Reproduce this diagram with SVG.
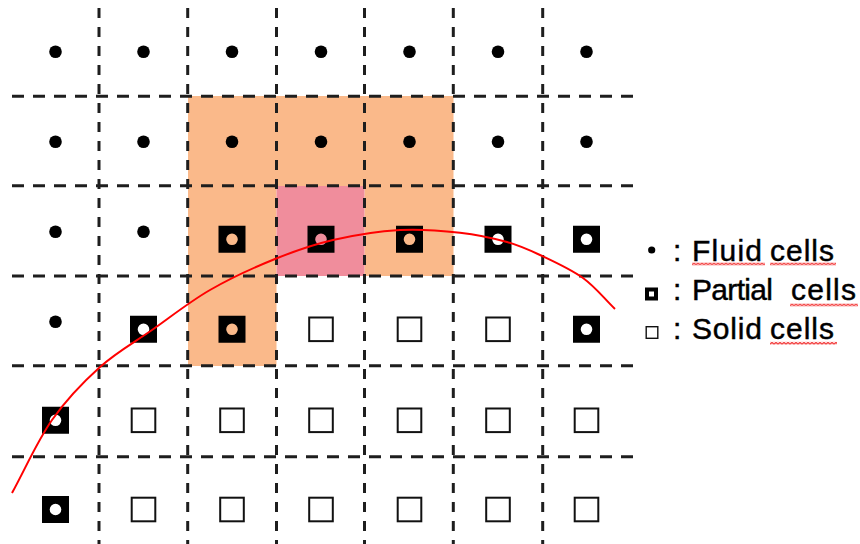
<svg xmlns="http://www.w3.org/2000/svg" width="860" height="544" viewBox="0 0 860 544">
  <style>
    .hl { stroke: #1e1e1e; stroke-width: 3; stroke-dasharray: 12 9; fill: none; }
    .vl { stroke: #1e1e1e; stroke-width: 3; stroke-dasharray: 10 9; fill: none; }
    .lg { font-family: "Liberation Sans", Arial, sans-serif; font-size: 30px; fill: #000; stroke: #000; stroke-width: 0.45px; }
    .curve { stroke: #ff0000; stroke-width: 2; fill: none; }
  </style>
  <defs>
    <circle id="fluid" r="6.3" fill="#000"/>
    <path id="partial" fill="#000" fill-rule="evenodd" d="M-13.5,-13.5 h27 v27 h-27 z M-5.8,0 a5.8,5.8 0 1,0 11.6,0 a5.8,5.8 0 1,0 -11.6,0 z"/>
    <rect id="solid" x="-11.8" y="-11.8" width="23.6" height="23.6" fill="#fff" stroke="#111" stroke-width="2"/>
    <pattern id="wavy" patternUnits="userSpaceOnUse" width="4" height="3">
      <path d="M0,2.4 L2,0.6 L4,2.4" stroke="#f01818" stroke-width="1.2" fill="none"/>
    </pattern>
  </defs>

  <rect width="860" height="544" fill="#fff"/>

  <g id="shading">
    <path d="M188,96 H453.5 V276 H364.5 V186 H276.5 V366 H188 Z" fill="#fab98a"/>
    <rect x="276.5" y="186" width="88" height="90" fill="#f08d9c"/>
  </g>

  <g id="grid">
    <line class="hl" x1="12" y1="96.3" x2="633" y2="96.3"/>
    <line class="hl" x1="12" y1="185.7" x2="633" y2="185.7"/>
    <line class="hl" x1="12" y1="276" x2="633" y2="276"/>
    <line class="hl" x1="12" y1="365.7" x2="633" y2="365.7"/>
    <line class="hl" x1="12" y1="456.7" x2="633" y2="456.7"/>
    <line class="vl" x1="99" y1="8" x2="99" y2="544"/>
    <line class="vl" x1="187.7" y1="8" x2="187.7" y2="544"/>
    <line class="vl" x1="276.5" y1="8" x2="276.5" y2="544"/>
    <line class="vl" x1="364.5" y1="8" x2="364.5" y2="544"/>
    <line class="vl" x1="453.3" y1="8" x2="453.3" y2="544"/>
    <line class="vl" x1="542.7" y1="8" x2="542.7" y2="544"/>
  </g>

  <g id="cells">
    <g id="row1">
      <use href="#fluid" x="55.5" y="51.7"/>
      <use href="#fluid" x="143.5" y="51.7"/>
      <use href="#fluid" x="232" y="51.7"/>
      <use href="#fluid" x="321" y="51.7"/>
      <use href="#fluid" x="409.5" y="51.7"/>
      <use href="#fluid" x="498" y="51.7"/>
      <use href="#fluid" x="586.5" y="51.7"/>
    </g>
    <g id="row2">
      <use href="#fluid" x="55.5" y="141.7"/>
      <use href="#fluid" x="143.5" y="141.7"/>
      <use href="#fluid" x="232" y="141.7"/>
      <use href="#fluid" x="321" y="141.7"/>
      <use href="#fluid" x="409.5" y="141.7"/>
      <use href="#fluid" x="498" y="141.7"/>
      <use href="#fluid" x="586.5" y="141.7"/>
    </g>
    <g id="row3">
      <use href="#fluid" x="55.5" y="231.7"/>
      <use href="#fluid" x="143.5" y="231.7"/>
      <use href="#partial" x="232" y="239.3"/>
      <use href="#partial" x="321" y="239.3"/>
      <use href="#partial" x="409.5" y="239.3"/>
      <use href="#partial" x="498" y="239.3"/>
      <use href="#partial" x="586.5" y="239.3"/>
    </g>
    <g id="row4">
      <use href="#fluid" x="55.5" y="321.7"/>
      <use href="#partial" x="143.5" y="329.3"/>
      <use href="#partial" x="232" y="329.3"/>
      <use href="#solid" x="321" y="329.3"/>
      <use href="#solid" x="409.5" y="329.3"/>
      <use href="#solid" x="498" y="329.3"/>
      <use href="#partial" x="586.5" y="329.3"/>
    </g>
    <g id="row5">
      <use href="#partial" x="55.5" y="420.3"/>
      <use href="#solid" x="143.5" y="420.3"/>
      <use href="#solid" x="232" y="420.3"/>
      <use href="#solid" x="321" y="420.3"/>
      <use href="#solid" x="409.5" y="420.3"/>
      <use href="#solid" x="498" y="420.3"/>
      <use href="#solid" x="586.5" y="420.3"/>
    </g>
    <g id="row6">
      <use href="#partial" x="55.5" y="509.5"/>
      <use href="#solid" x="143.5" y="509.5"/>
      <use href="#solid" x="232" y="509.5"/>
      <use href="#solid" x="321" y="509.5"/>
      <use href="#solid" x="409.5" y="509.5"/>
      <use href="#solid" x="498" y="509.5"/>
      <use href="#solid" x="586.5" y="509.5"/>
    </g>
  </g>

  <g id="interface">
    <path class="curve" d="M12,493 C25.3,468.7 37.3,441 52,420 C66.7,399 83.3,382 100,367 C116.7,352 133.7,342.8 152,330 C170.3,317.2 189.5,301.8 210,290 C230.5,278.2 254.5,267.3 275,259 C295.5,250.7 312.2,244.8 333,240 C353.8,235.2 378.8,231.2 400,230 C421.2,228.8 442.2,230.7 460,232.7 C477.8,234.7 493.7,238.3 507,242 C520.3,245.7 527.3,249 540,255 C552.7,261 570.5,269 583,278 C595.5,287 604.3,298.7 615,309"/>
  </g>

  <g id="legend">
    <g id="legend-fluid">
      <circle cx="651.7" cy="250" r="3.6" fill="#000"/>
      <text class="lg" x="673" y="261">:</text>
      <text class="lg" x="692" y="261" textLength="70">Fluid</text>
      <text class="lg" x="770" y="261" textLength="64">cells</text>
      <g transform="translate(692,262.5)"><rect width="73" height="3" fill="url(#wavy)"/></g>
      <g transform="translate(770,262.5)"><rect width="66" height="3" fill="url(#wavy)"/></g>
    </g>
    <g id="legend-partial">
      <path fill="#000" fill-rule="evenodd" d="M645,287.5 h13 v13 h-13 z M649,291.5 h5 v5 h-5 z"/>
      <text class="lg" x="673" y="300">:</text>
      <text class="lg" x="692" y="300" textLength="81">Partial</text>
      <text class="lg" x="791" y="300" textLength="65">cells</text>
      <g transform="translate(790,303.5)"><rect width="68" height="3" fill="url(#wavy)"/></g>
    </g>
    <g id="legend-solid">
      <rect x="646.2" y="326.7" width="11.6" height="11.6" fill="#fff" stroke="#111" stroke-width="1.4"/>
      <text class="lg" x="673" y="338.5">:</text>
      <text class="lg" x="692" y="338.5" textLength="70">Solid</text>
      <text class="lg" x="770" y="338.5" textLength="64">cells</text>
      <g transform="translate(770,341.8)"><rect width="67" height="3" fill="url(#wavy)"/></g>
    </g>
  </g>
</svg>
